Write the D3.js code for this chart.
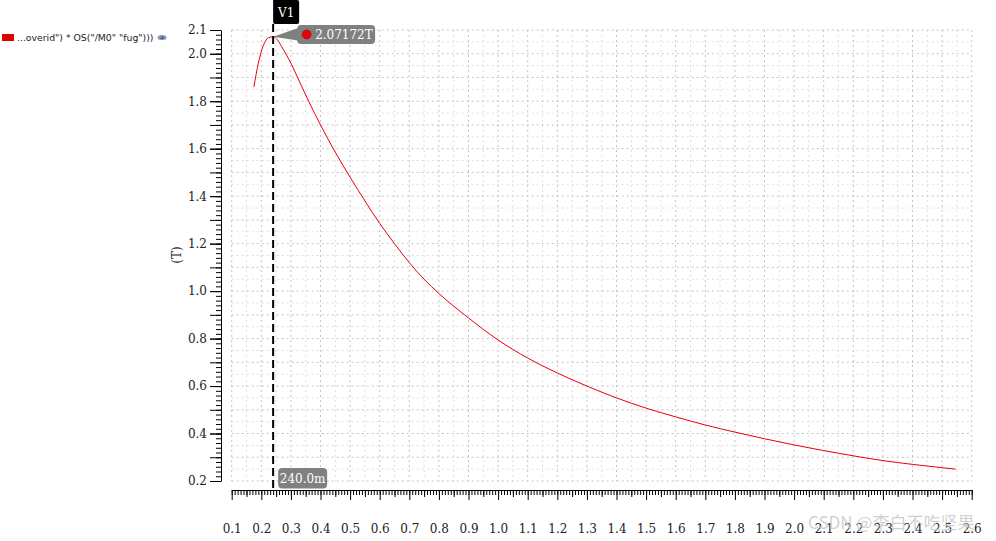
<!DOCTYPE html>
<html>
<head>
<meta charset="utf-8">
<script src="https://cdn.jsdelivr.net/npm/d3@7"></script>
<style>
  html, body { margin: 0; padding: 0; background: #fff; }
  svg { display: block; }
</style>
</head>
<body>
<svg id="chart" width="996" height="541"></svg>
<script>
// ---- data ----
const xValues = [0.175, 0.19, 0.207, 0.225, 0.24, 0.255, 0.269, 0.285, 0.302, 0.33, 0.36, 0.4, 0.45, 0.5, 0.55, 0.6, 0.65, 0.7, 0.75, 0.8, 0.9, 1.0, 1.1, 1.2, 1.3, 1.4, 1.5, 1.6, 1.7, 1.8, 1.9, 2.0, 2.1, 2.2, 2.3, 2.4, 2.5, 2.546];
const yValues = [1.86, 1.96, 2.035, 2.068, 2.07172, 2.058, 2.029, 1.995, 1.955, 1.88, 1.80, 1.70, 1.585, 1.48, 1.38, 1.285, 1.2, 1.12, 1.05, 0.99, 0.887, 0.794, 0.718, 0.655, 0.60, 0.55, 0.507, 0.47, 0.436, 0.406, 0.378, 0.352, 0.328, 0.306, 0.286, 0.27, 0.256, 0.25];
const xTickValues = [0.1, 0.2, 0.3, 0.4, 0.5, 0.6, 0.7, 0.8, 0.9, 1.0, 1.1, 1.2, 1.3, 1.4, 1.5, 1.6, 1.7, 1.8, 1.9, 2.0, 2.1, 2.2, 2.3, 2.4, 2.5, 2.6];
const yTickValues = [0.2, 0.4, 0.6, 0.8, 1.0, 1.2, 1.4, 1.6, 1.8, 2.0, 2.1];
const markerX = 0.24;
const markerY = 2.07172;
const markerName = "V1";
const markerValueLabel = "2.07172T";
const markerXLabel = "240.0m";
const legendLabel = '...overid") * OS("/M0" "fug")))';
const yAxisTitle = "(T)";
const watermark = "CSDN @李白不吃坚果";

// ---- scales ----
const svg = d3.select("#chart");
const x = d3.scaleLinear().domain([0.1, 2.6]).range([231.7, 971.7]);
const y = d3.scaleLinear().domain([0.2, 2.1]).range([481, 30]);
const serif = "'DejaVu Serif', serif";

// ---- grid ----
const gx = d3.range(0, 51).map(i => +(0.1 + i * 0.05).toFixed(2));
const gy = d3.range(0, 39).map(i => +(0.2 + i * 0.05).toFixed(2));
const isMajor = v => Math.abs(Math.round(v * 10) - v * 10) < 1e-6;
const grid = svg.append("g");
grid.selectAll("line.v").data(gx).join("line")
  .attr("x1", d => x(d)).attr("x2", d => x(d))
  .attr("y1", y(2.1)).attr("y2", y(0.2))
  .attr("stroke", d => isMajor(d) ? "#c4c4c4" : "#dedede")
  .attr("stroke-width", 1).attr("stroke-dasharray", "2,3");
grid.selectAll("line.h").data(gy).join("line")
  .attr("y1", d => y(d)).attr("y2", d => y(d))
  .attr("x1", x(0.1)).attr("x2", x(2.6))
  .attr("stroke", d => isMajor(d) ? "#c4c4c4" : "#dedede")
  .attr("stroke-width", 1).attr("stroke-dasharray", "2,3");

// ---- y axis ----
const yAxisX = 221;
const yMinor = d3.range(0, 96).map(i => +(0.2 + i * 0.02).toFixed(2)).filter(v => v <= 2.1001);
const yMid = d3.range(0, 20).map(i => +(0.2 + i * 0.1).toFixed(2));
svg.append("g").attr("transform", `translate(${yAxisX},0)`)
  .call(d3.axisLeft(y).tickValues(yMinor).tickSize(5).tickSizeOuter(0).tickFormat(""))
  .call(g => g.select(".domain").remove());
svg.append("g").attr("transform", `translate(${yAxisX},0)`)
  .call(d3.axisLeft(y).tickValues(yMid).tickSize(11).tickSizeOuter(0).tickFormat(""))
  .call(g => g.select(".domain").remove());
const yAx = svg.append("g").attr("transform", `translate(${yAxisX},0)`)
  .call(d3.axisLeft(y).tickValues(yTickValues).tickSize(11).tickSizeOuter(0).tickPadding(3).tickFormat(d3.format(".1f")));
yAx.selectAll("text").attr("font-family", serif).attr("font-size", 12).attr("fill", "#222");
svg.selectAll(".tick line").attr("stroke", "#000");
yAx.select(".domain").attr("stroke", "#000");

// ---- x axis ----
const xAxisY = 490;
const xMinor = d3.range(0, 251).map(i => +(0.1 + i * 0.01).toFixed(2));
const xHalf = d3.range(0, 50).map(i => +(0.15 + i * 0.05).toFixed(2)).filter(v => !isMajor(v));
svg.append("g").attr("transform", `translate(0,${xAxisY})`)
  .call(d3.axisBottom(x).tickValues(xMinor).tickSize(5).tickSizeOuter(0).tickFormat(""))
  .call(g => g.select(".domain").remove());
svg.append("g").attr("transform", `translate(0,${xAxisY})`)
  .call(d3.axisBottom(x).tickValues(xHalf).tickSize(7).tickSizeOuter(0).tickFormat(""))
  .call(g => g.select(".domain").remove());
const xAx = svg.append("g").attr("transform", `translate(0,${xAxisY})`)
  .call(d3.axisBottom(x).tickValues(xTickValues).tickSize(10).tickSizeOuter(0).tickPadding(24).tickFormat(d3.format(".1f")));
xAx.selectAll("text").attr("font-family", serif).attr("font-size", 12).attr("fill", "#222");
svg.selectAll(".tick line").attr("stroke", "#000");
xAx.select(".domain").attr("stroke", "#000");

// y title
svg.append("text").attr("transform", `translate(181,255) rotate(-90)`)
  .attr("text-anchor", "middle").attr("font-family", serif).attr("font-size", 12)
  .attr("fill", "#222").text(yAxisTitle);

// ---- curve ----
const pts = xValues.map((v, i) => [v, yValues[i]]);
svg.append("path").datum(pts)
  .attr("fill", "none").attr("stroke", "#e8000b").attr("stroke-width", 1)
  .attr("d", d3.line().x(d => x(d[0])).y(d => y(d[1])).curve(d3.curveMonotoneX));

// ---- marker ----
const mx = x(markerX), my = y(markerY);
svg.append("line").attr("x1", mx).attr("x2", mx).attr("y1", 24).attr("y2", xAxisY)
  .attr("stroke", "#000").attr("stroke-width", 2).attr("stroke-dasharray", "8,4");
svg.append("path")
  .attr("d", `M${mx},0 H${mx + 24} a2,2 0 0 1 2,2 V22 a2,2 0 0 1 -2,2 H${mx + 2} a2,2 0 0 1 -2,-2 Z`)
  .attr("fill", "#000");
svg.append("text").attr("x", mx + 13).attr("y", 16.5).attr("text-anchor", "middle")
  .attr("font-family", serif).attr("font-size", 12).attr("fill", "#fff").text(markerName);

// value label
const vlx = mx + 24, vly = 25;
svg.append("path")
  .attr("d", `M${mx},${my} L${vlx + 4},${vly + 2} L${vlx + 4},${vly + 16} Z`)
  .attr("fill", "#808080");
svg.append("rect").attr("x", vlx).attr("y", vly).attr("width", 78).attr("height", 19)
  .attr("rx", 4).attr("fill", "#808080");
svg.append("circle").attr("cx", vlx + 9.5).attr("cy", vly + 9.5).attr("r", 4.5)
  .attr("fill", "#e8000b").attr("stroke", "#b00000").attr("stroke-width", 0.6);
svg.append("text").attr("x", vlx + 18).attr("y", vly + 14)
  .attr("font-family", serif).attr("font-size", 12).attr("fill", "#fff").text(markerValueLabel);

// x label
svg.append("rect").attr("x", mx + 5).attr("y", 468).attr("width", 49).attr("height", 20.5)
  .attr("rx", 4).attr("fill", "#808080");
svg.append("text").attr("x", mx + 29.5).attr("y", 483).attr("text-anchor", "middle")
  .attr("font-family", serif).attr("font-size", 12).attr("fill", "#fff").text(markerXLabel);

// ---- legend ----
svg.append("rect").attr("x", 2).attr("y", 34).attr("width", 12).attr("height", 7).attr("fill", "#e00000");
svg.append("text").attr("x", 17).attr("y", 40.5)
  .attr("font-family", "'DejaVu Sans', sans-serif").attr("font-size", 9.3).attr("fill", "#222").text(legendLabel);
const eye = svg.append("g").attr("transform", "translate(162,37.5)");
eye.append("ellipse").attr("rx", 4.5).attr("ry", 2.6).attr("fill", "#8a9ab8");
eye.append("circle").attr("r", 1.6).attr("fill", "#3d4f7a");
eye.append("circle").attr("r", 0.6).attr("cx", -0.5).attr("cy", -0.5).attr("fill", "#fff");

// ---- watermark ----
svg.append("text").attr("x", 808).attr("y", 529)
  .attr("font-family", "'Noto Sans CJK SC', 'Noto Sans', sans-serif").attr("font-size", 17)
  .attr("fill", "#c8c8c8").attr("fill-opacity", 0.85).text(watermark);
</script>
</body>
</html>
